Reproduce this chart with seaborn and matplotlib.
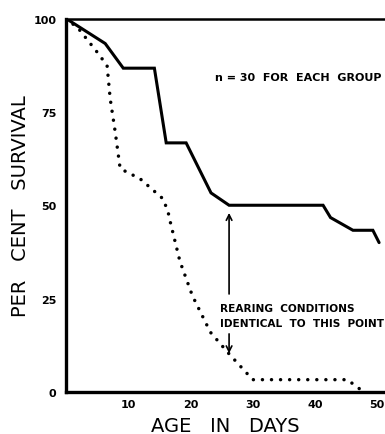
import matplotlib
matplotlib.use("Agg")
import matplotlib.pyplot as plt
import seaborn as sns
import pandas as pd

# Data
solid_age = [0, 6.3, 9.2, 14.2, 16.1, 19.3, 23.3, 26.2, 41.3, 42.5, 46.1, 49.3, 50.3]
solid_surv = [100, 93.3, 86.7, 86.7, 66.7, 66.7, 53.3, 50, 50, 46.7, 43.3, 43.3, 40]

dotted_age = [0, 2, 5, 6.6, 7.1, 7.9, 8.7, 11.9, 15.6, 16.4, 16.7, 18.3, 20.3, 23.2, 26.2, 30, 45.2, 47.2, 48]
dotted_surv = [100, 97.3, 91, 87.4, 78.5, 69.7, 59.8, 57.1, 51.7, 48.2, 45.9, 35, 25.8, 16, 10.2, 3.3, 3.3, 0.8, 0]

x_ticks = [10, 20, 30, 40, 50]
y_ticks = [0, 25, 50, 75, 100]

sns.set_style("white")
plt.rcParams['font.family'] = ['DejaVu Sans']
plt.rcParams['text.color'] = 'black'
plt.rcParams['axes.labelcolor'] = 'black'
plt.rcParams['xtick.color'] = 'black'
plt.rcParams['ytick.color'] = 'black'

fig = plt.figure(figsize=(3.85, 4.35), dpi=100)
ax = fig.add_axes([66/385, 42/435, 1 - 66/385, 373.5/435])

df_s = pd.DataFrame({"age": solid_age, "surv": solid_surv})
df_d = pd.DataFrame({"age": dotted_age, "surv": dotted_surv})

sns.lineplot(data=df_s, x="age", y="surv", ax=ax, color="black", lw=2.2,
             sort=False, estimator=None, solid_joinstyle="miter")
sns.lineplot(data=df_d, x="age", y="surv", ax=ax, color="black", lw=2.5,
             sort=False, estimator=None, linestyle=(0, (0.01, 2.6)),
             dash_capstyle="round")

ax.set_xlim(0, 51.25)
ax.set_ylim(0, 100)
ax.set_xticks(x_ticks)
ax.set_yticks(y_ticks)
ax.set_xticklabels([str(v) for v in x_ticks], fontsize=8, fontweight="bold")
ax.set_yticklabels([str(v) for v in y_ticks], fontsize=8, fontweight="bold")
ax.tick_params(axis="x", direction="in", length=4, width=1.2, pad=5)
ax.tick_params(axis="y", direction="out", length=4, width=1.2, pad=3)

for s in ["left", "bottom"]:
    ax.spines[s].set_linewidth(2.4)
    ax.spines[s].set_color("black")
ax.spines["top"].set_linewidth(1.8)
ax.spines["top"].set_color("black")
ax.spines["right"].set_visible(False)

ax.set_xlabel("AGE   IN   DAYS", fontsize=14, labelpad=5, color="black")
ax.set_ylabel("PER   CENT   SURVIVAL", fontsize=14, labelpad=2, color="black")

ax.text(24.0, 84.4, "n = 30  FOR  EACH  GROUP", fontsize=8, fontweight="bold",
        va="center", ha="left", clip_on=False)
ax.text(24.8, 22.5, "REARING  CONDITIONS", fontsize=7.6, fontweight="bold",
        va="center", ha="left")
ax.text(24.8, 18.5, "IDENTICAL  TO  THIS  POINT", fontsize=7.6, fontweight="bold",
        va="center", ha="left")

ax.annotate("", xy=(26.2, 48.7), xytext=(26.2, 25.5),
            arrowprops=dict(arrowstyle="->", color="black", lw=1.2))
ax.annotate("", xy=(26.2, 9.6), xytext=(26.2, 16.3),
            arrowprops=dict(arrowstyle="->", color="black", lw=1.2))

fig.savefig("out.png", dpi=100)
